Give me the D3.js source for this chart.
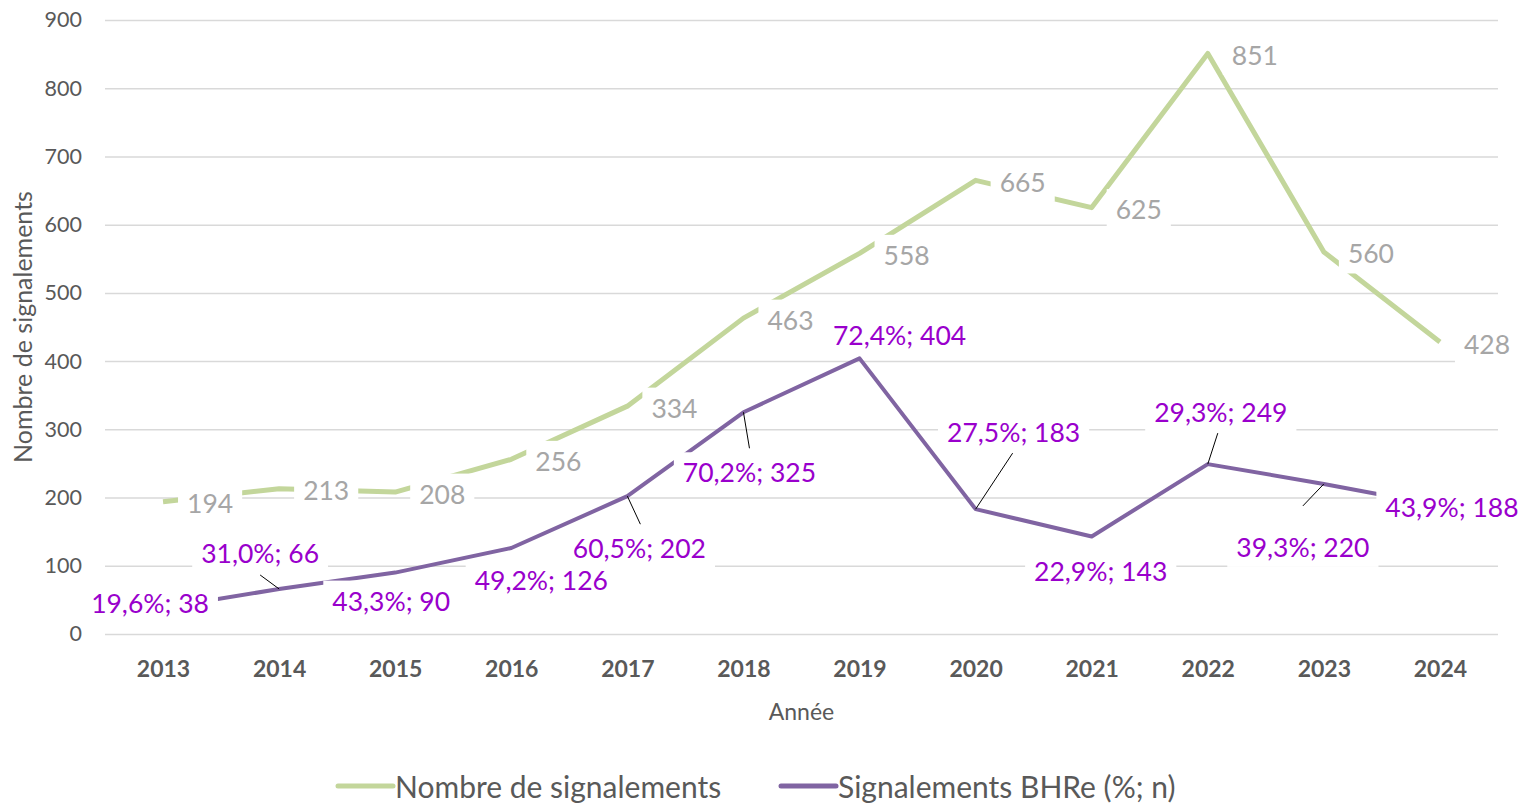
<!DOCTYPE html>
<html>
<head>
<meta charset="utf-8">
<script src="https://cdn.jsdelivr.net/npm/d3@7"></script>
<style>
  body { margin: 0; background: #fff; }
  svg { display: block; font-family: Lato, "Open Sans", sans-serif; }
</style>
</head>
<body>
<div id="chart"></div>
<script>
// data
const years = ["2013", "2014", "2015", "2016", "2017", "2018", "2019", "2020", "2021", "2022", "2023", "2024"];
const totalSignalements = [194, 213, 208, 256, 334, 463, 558, 665, 625, 851, 560, 428];
const bhreCount = [38, 66, 90, 126, 202, 325, 404, 183, 143, 249, 220, 188];
const bhrePercent = ["19,6%", "31,0%", "43,3%", "49,2%", "60,5%", "70,2%", "72,4%", "27,5%", "22,9%", "29,3%", "39,3%", "43,9%"];
const yTicks = [0, 100, 200, 300, 400, 500, 600, 700, 800, 900];
const seriesNames = ["Nombre de signalements", "Signalements BHRe (%; n)"];

// label placement (offsets from the point, in px) like the original Excel chart
const bhreLabelOffset = [[-13, -5], [-19, -36], [-4, 28], [30, 32], [12, 52], [6, 60],
                         [40, -23], [38, -77], [9, 35], [13, -52], [-21, 63], [12, 1]];
const bhreLeaderEnd = [null, [-19, -14], null, null, [13, 28], [6, 36],
                       null, [37, -56], null, [10, -31], [-21, 22], null];

const W = 1528, H = 806;
const plotLeft = 105, plotRight = 1498, plotTop = 20, plotBottom = 634;
const green = "#C3D69B", purple = "#8064A2", purpleText = "#9900CC";
const gridColor = "#D9D9D9", axisText = "#595959";

const svg = d3.select("#chart").append("svg").attr("width", W).attr("height", H);

const x = d3.scalePoint().domain(years).range([plotLeft, plotRight]).padding(0.5);
const y = d3.scaleLinear().domain([0, 900]).range([plotBottom, plotTop]);

// gridlines + y labels
const yAxis = d3.axisLeft(y).tickValues(yTicks).tickSize(-(plotRight - plotLeft)).tickPadding(23);
const gy = svg.append("g").attr("transform", "translate(" + plotLeft + ",0)").call(yAxis);
gy.select(".domain").remove();
gy.selectAll(".tick line").attr("stroke", gridColor).attr("stroke-width", 1.5);
gy.selectAll(".tick text").attr("fill", axisText).style("font-size", "21.5px").style("font-family", "Lato, sans-serif");

// x labels
const xAxis = d3.axisBottom(x).tickSize(0).tickPadding(27);
const gx = svg.append("g").attr("transform", "translate(0," + plotBottom + ")").call(xAxis);
gx.select(".domain").remove();
gx.selectAll(".tick text").attr("fill", axisText).style("font-size", "23px")
  .style("font-weight", "bold").style("font-family", "Lato, sans-serif");

svg.append("text")
  .attr("x", (plotLeft + plotRight) / 2).attr("y", 711)
  .attr("text-anchor", "middle").attr("dominant-baseline", "central")
  .attr("fill", axisText).style("font-size", "23px").text("Année");

svg.append("text")
  .attr("transform", "translate(22," + 327 + ") rotate(-90)")
  .attr("text-anchor", "middle").attr("dominant-baseline", "central")
  .attr("fill", axisText).style("font-size", "25px").text("Nombre de signalements");

// lines
const line = (vals) => d3.line().x((d, i) => x(years[i])).y(d => y(d))(vals);

svg.append("path").attr("d", line(totalSignalements))
  .attr("fill", "none").attr("stroke", green).attr("stroke-width", 5).attr("stroke-linejoin", "round");
svg.append("path").attr("d", line(bhreCount))
  .attr("fill", "none").attr("stroke", purple).attr("stroke-width", 4).attr("stroke-linejoin", "round");

// data labels with white boxes
const labelSize = 26.5;
const labels = svg.append("g").style("font-size", labelSize + "px");

function addLabel(txt, cx, cy, anchor, color) {
  const g = labels.append("g");
  const rect = g.append("rect").attr("fill", "#fff");
  const t = g.append("text").attr("x", cx).attr("y", cy)
    .attr("text-anchor", anchor).attr("dominant-baseline", "central")
    .attr("fill", color).text(txt);
  const bb = t.node().getBBox();
  rect.attr("x", bb.x - 9).attr("y", cy - 20).attr("width", bb.width + 18).attr("height", 40);
}

totalSignalements.forEach((v, i) => {
  addLabel(String(v), x(years[i]) + 24, y(v) + 1.5, "start", "#A6A6A6");
});

bhreCount.forEach((v, i) => {
  const px = x(years[i]), py = y(v);
  const off = bhreLabelOffset[i];
  addLabel(bhrePercent[i] + "; " + v, px + off[0], py + off[1], "middle", purpleText);
});

// leader lines
bhreCount.forEach((v, i) => {
  const end = bhreLeaderEnd[i];
  if (!end) return;
  const px = x(years[i]), py = y(v);
  svg.append("line")
    .attr("x1", px).attr("y1", py).attr("x2", px + end[0]).attr("y2", py + end[1])
    .attr("stroke", "#000").attr("stroke-width", 1);
});

// legend
const legend = svg.append("g").style("font-size", "30px");
const legendItems = [
  { name: seriesNames[0], color: green, x0: 338 },
  { name: seriesNames[1], color: purple, x0: 781 }
];
legendItems.forEach(d => {
  legend.append("line").attr("x1", d.x0).attr("x2", d.x0 + 55).attr("y1", 786).attr("y2", 786)
    .attr("stroke", d.color).attr("stroke-width", 5).attr("stroke-linecap", "round");
  legend.append("text").attr("x", d.x0 + 57).attr("y", 786)
    .attr("dominant-baseline", "central").attr("fill", axisText).text(d.name);
});
</script>
</body>
</html>
